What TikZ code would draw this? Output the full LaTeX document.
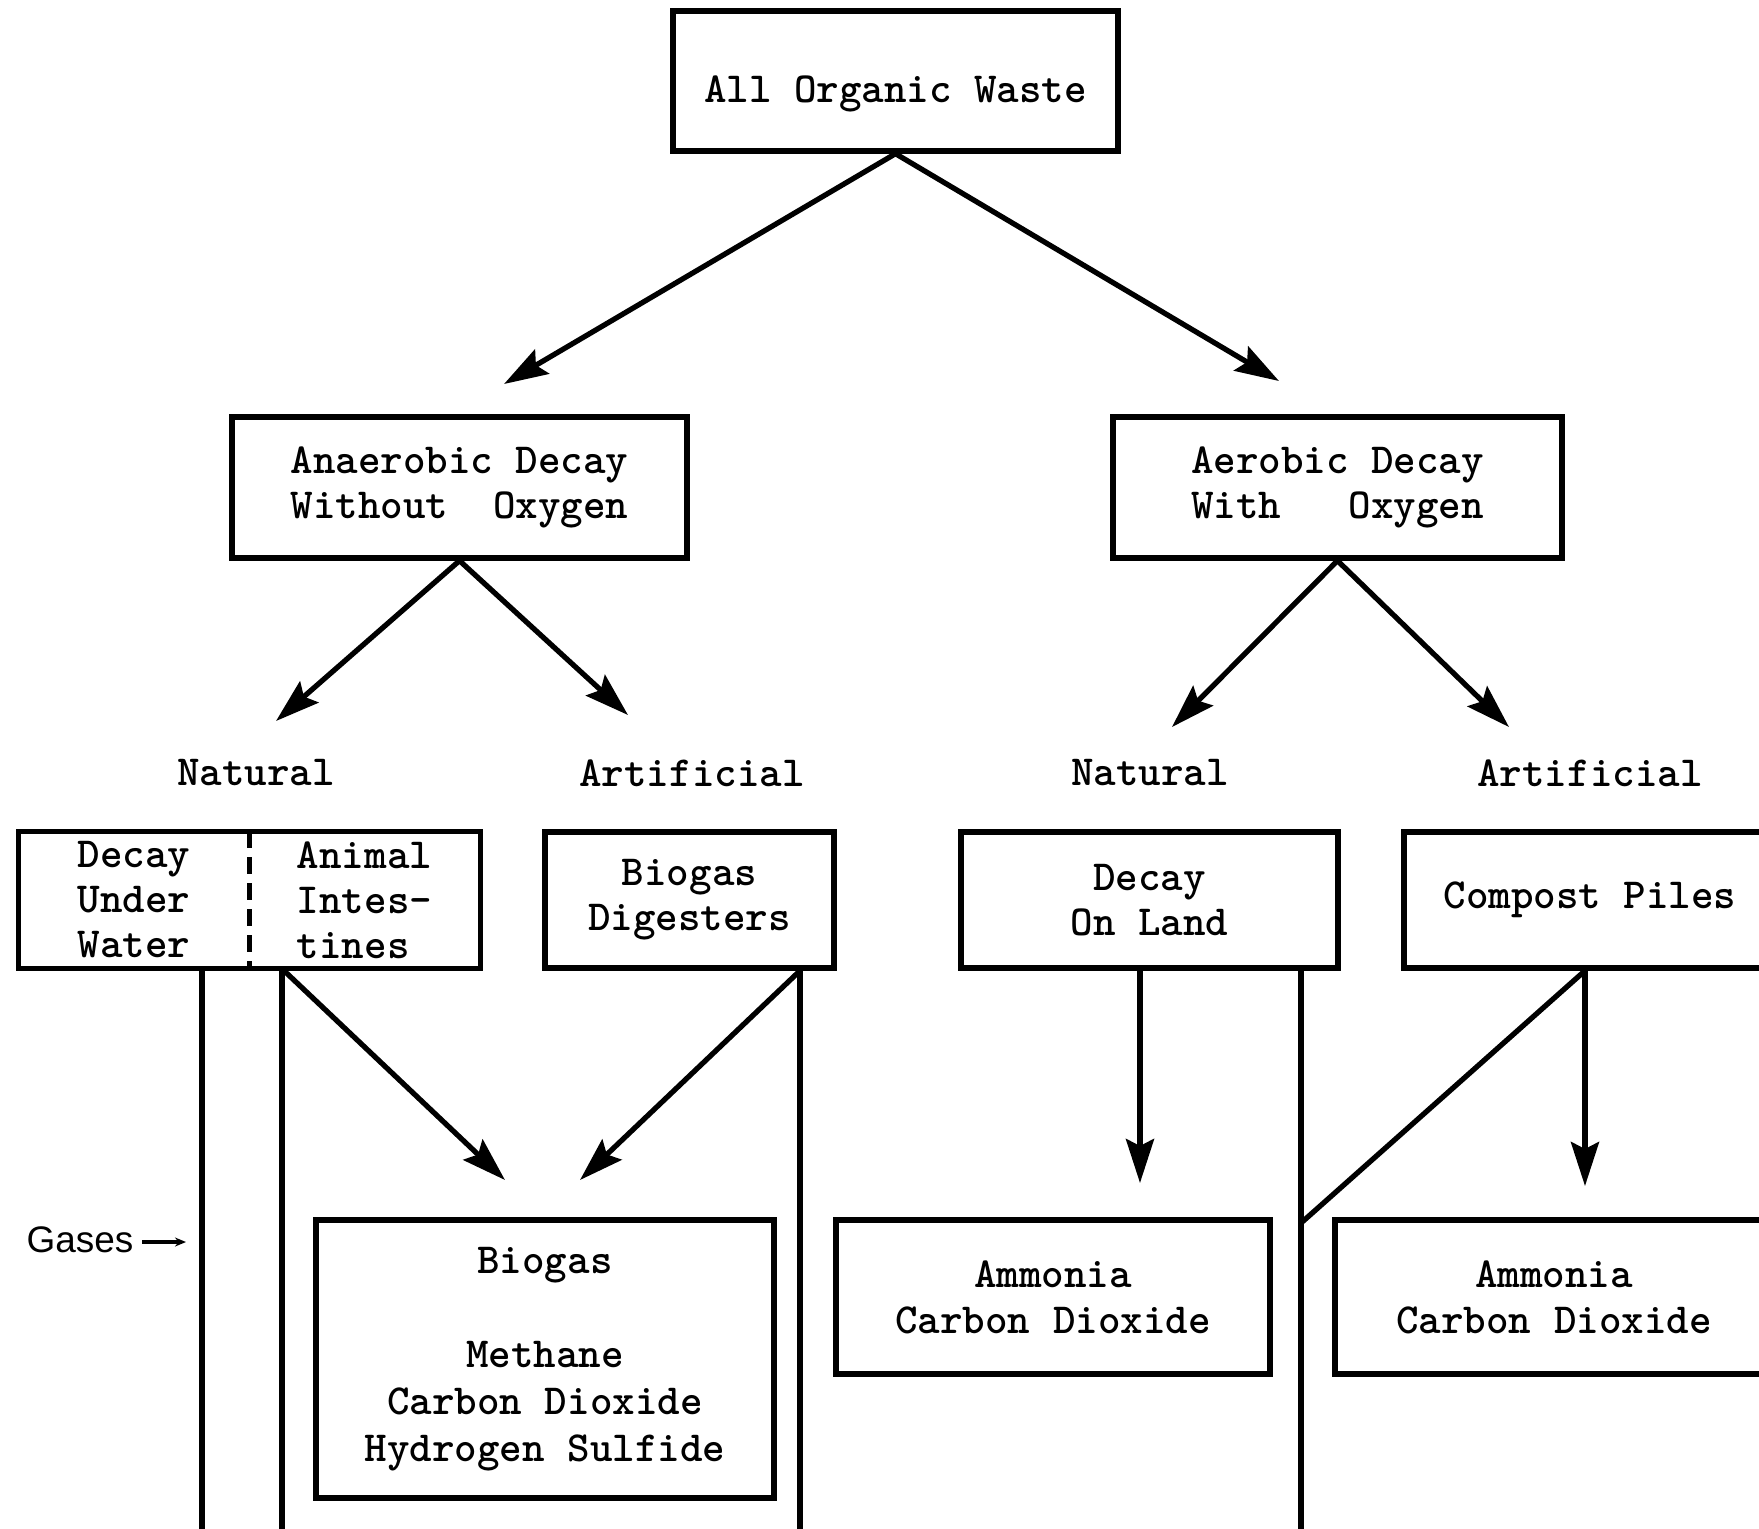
\documentclass[tikz,border=0pt]{standalone}
\usepackage{fontspec}
\newfontfamily\gasfont{Liberation Sans}
\usetikzlibrary{arrows.meta}

\begin{document}
\begin{tikzpicture}[
    x=0.01cm, y=-0.01cm,
    font=\ttfamily\bfseries\fontsize{12.2}{12.8}\selectfont,
    box/.style={
        draw=black,
        line width=1.5pt,
        inner sep=0pt,
        minimum height=1.38cm,
        align=center
    },
    arr/.style={-{Stealth[length=0.44cm, width=0.28cm, inset=0.07cm]}, line width=1.5pt},
    feed/.style={line width=1.5pt},
    label/.style={inner sep=0pt}
]
    \useasboundingbox (0,0) rectangle (1759,1529);
    \clip (0,0) rectangle (1759,1529);

    \node[box, minimum width=4.45cm, minimum height=1.40cm, text height=0.47cm, text depth=0.05cm] (waste) at (895.5,81)
        {All Organic Waste};

    \node[box, minimum width=4.55cm, minimum height=1.41cm] (anaer) at (459.5,487.5)
        {Anaerobic Decay\\Without~~Oxygen};

    \node[box, minimum width=4.49cm, minimum height=1.41cm] (aer) at (1337.5,487.5)
        {Aerobic Decay\\With~~~Oxygen};

    \node[label] (natA) at (256,773) {Natural};
    \node[label] (artA) at (692,773) {Artificial};
    \node[label] (natB) at (1150,773) {Natural};
    \node[label] (artB) at (1590,773) {Artificial};

    % split box: water | intestines
    \node[minimum width=2.30cm, minimum height=1.36cm, inner sep=0pt, align=left] (water) at (134,900)
        {Decay\\Under\\Water};
    \node[minimum width=2.31cm, minimum height=1.36cm, inner sep=0pt, align=left] (gut) at (364.5,900)
        {Animal\\Intes-\\tines};
    \draw[line width=1.5pt] (water.north west) rectangle (gut.south east);
    \draw[line width=1.5pt, dash pattern=on 0.17cm off 0.09cm] (water.north east) -- (water.south east);

    \node[box, minimum width=2.89cm, minimum height=1.36cm] (dig) at (689.5,900)
        {Biogas\\Digesters};

    \node[box, minimum width=3.77cm, minimum height=1.36cm] (land) at (1149.5,900)
        {Decay\\On Land};

    \node[box, minimum width=3.72cm, minimum height=1.36cm] (compost) at (1590,900)
        {Compost Piles};

    \node[box, minimum width=4.58cm, minimum height=2.78cm, font=\ttfamily\bfseries\fontsize{12.2}{13.4}\selectfont] (biogas) at (545,1359)
        {Biogas\\[13.4pt]Methane\\Carbon Dioxide\\Hydrogen Sulfide};

    \node[box, minimum width=4.34cm, minimum height=1.54cm, font=\ttfamily\bfseries\fontsize{12.2}{13}\selectfont] (ammA) at (1053,1297)
        {Ammonia\\Carbon Dioxide};

    \node[box, minimum width=4.38cm, minimum height=1.54cm, font=\ttfamily\bfseries\fontsize{12.2}{13}\selectfont] (ammB) at (1554,1297)
        {Ammonia\\Carbon Dioxide};

    \node[label, font=\gasfont\fontsize{10.5}{12}\selectfont] (gases) at (80,1240) {Gases};

    % free ends
    \coordinate (anaerTip) at (504,384);
    \coordinate (aerTip) at (1279,381);
    \coordinate (natATip) at (276,721);
    \coordinate (artATip) at (628,715);
    \coordinate (natBTip) at (1172,727);
    \coordinate (artBTip) at (1509,727);
    \coordinate (waterEnd) at (202,1540);
    \coordinate (gutEnd) at (282,1540);
    \coordinate (digEnd) at (800,1540);
    \coordinate (landEnd) at (1301,1540);
    \coordinate (bgLeft) at (505,1180);
    \coordinate (bgRight) at (580,1180);
    \coordinate (landTip) at (1140,1183);
    \coordinate (compTip) at (1585,1186);
    \coordinate (meet) at (1301,1223);
    \coordinate (gasTip) at (186,1242);

    \draw[arr] (waste.south) -- (anaerTip);
    \draw[arr] (waste.south) -- (aerTip);
    \draw[arr] (anaer.south) -- (natATip);
    \draw[arr] (anaer.south) -- (artATip);
    \draw[arr] (aer.south) -- (natBTip);
    \draw[arr] (aer.south) -- (artBTip);

    \draw[feed] (water.south -| waterEnd) -- (waterEnd);
    \draw[feed] (gut.south -| gutEnd) -- (gutEnd);
    \draw[arr] (gut.south -| gutEnd) -- (bgLeft);
    \draw[feed] (dig.south -| digEnd) -- (digEnd);
    \draw[arr] (dig.south -| digEnd) -- (bgRight);
    \draw[arr] (land.south -| landTip) -- (landTip);
    \draw[feed] (land.south -| landEnd) -- (landEnd);
    \draw[arr] (compost.south -| compTip) -- (compTip);
    \draw[feed] (compost.south -| compTip) -- (meet);

    \draw[-{Stealth[length=0.11cm, width=0.09cm]}, line width=1pt] (gases.east) ++(8,2) -- (gasTip);
\end{tikzpicture}
\end{document}
